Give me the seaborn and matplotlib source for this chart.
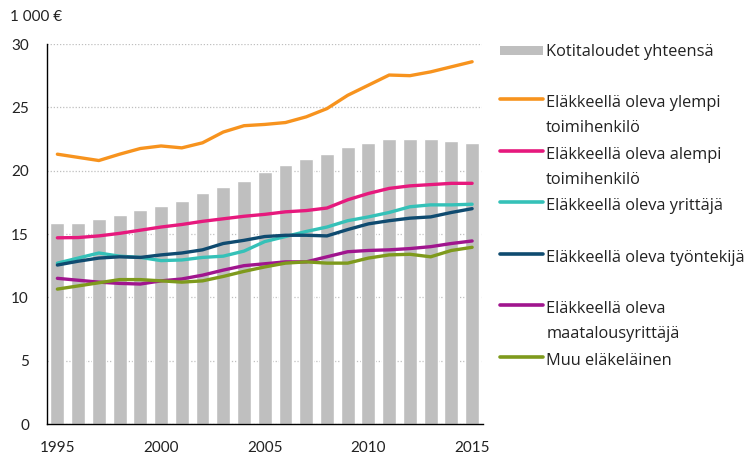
import matplotlib
matplotlib.use('Agg')
import matplotlib.pyplot as plt
from matplotlib.lines import Line2D
from matplotlib.patches import Patch
from matplotlib.legend_handler import HandlerLine2D, HandlerPatch
import pandas as pd
import seaborn as sns

sns.set_theme(style='white')
plt.rcParams['font.family'] = ['Lato', 'DejaVu Sans']

years = list(range(1995, 2016))
kotitaloudet = [15.9, 15.9, 16.15, 16.5, 16.9, 17.25, 17.6, 18.2, 18.7, 19.2, 19.9,
                20.45, 20.95, 21.35, 21.85, 22.2, 22.5, 22.5, 22.5, 22.35, 22.2]
ylempi = [21.3, 21.05, 20.8, 21.3, 21.75, 21.95, 21.8, 22.2, 23.05, 23.55, 23.65,
          23.8, 24.25, 24.9, 25.95, 26.75, 27.55, 27.5, 27.8, 28.2, 28.6]
alempi = [14.7, 14.72, 14.85, 15.05, 15.3, 15.55, 15.75, 16.0, 16.2, 16.4, 16.55,
          16.75, 16.85, 17.05, 17.7, 18.2, 18.6, 18.8, 18.9, 19.0, 19.0]
yrittaja = [12.7, 13.1, 13.5, 13.25, 13.15, 12.9, 12.95, 13.15, 13.25, 13.65, 14.4,
            14.8, 15.2, 15.55, 16.05, 16.35, 16.7, 17.15, 17.3, 17.3, 17.35]
tyontekija = [12.55, 12.85, 13.1, 13.2, 13.15, 13.35, 13.5, 13.75, 14.25, 14.5, 14.8,
              14.9, 14.9, 14.85, 15.35, 15.8, 16.05, 16.25, 16.35, 16.7, 17.0]
maatalous = [11.5, 11.35, 11.2, 11.1, 11.05, 11.3, 11.45, 11.75, 12.15, 12.5, 12.65,
             12.8, 12.8, 13.2, 13.6, 13.7, 13.75, 13.85, 14.0, 14.25, 14.45]
muu = [10.65, 10.9, 11.15, 11.4, 11.4, 11.3, 11.2, 11.3, 11.65, 12.05, 12.4,
       12.7, 12.8, 12.7, 12.7, 13.1, 13.35, 13.4, 13.2, 13.7, 13.95]

bar_label = 'Kotitaloudet yhteensä'
series = {
    'Eläkkeellä oleva ylempi\ntoimihenkilö': ylempi,
    'Eläkkeellä oleva alempi\ntoimihenkilö': alempi,
    'Eläkkeellä oleva yrittäjä\n': yrittaja,
    'Eläkkeellä oleva työntekijä\n': tyontekija,
    'Eläkkeellä oleva\nmaatalousyrittäjä': maatalous,
    'Muu eläkeläinen\n': muu,
}
colors = ['#F7931E', '#E6197D', '#35C1B8', '#0F4B70', '#A0158E', '#7E9A1C']
palette = dict(zip(series.keys(), colors))

bars = pd.DataFrame({'year': years, 'value': kotitaloudet})
lines = pd.concat([pd.DataFrame({'year': years, 'value': v, 'series': k})
                   for k, v in series.items()])

LIFT = 12  # points: put legend keys beside the first text line


class FirstLineLine(HandlerLine2D):
    def create_artists(self, *args, **kwargs):
        arts = super().create_artists(*args, **kwargs)
        for a in arts:
            a.set_ydata([y + LIFT for y in a.get_ydata()])
        return arts


class FirstLinePatch(HandlerPatch):
    def create_artists(self, *args, **kwargs):
        arts = super().create_artists(*args, **kwargs)
        for a in arts:
            a.set_y(a.get_y() + LIFT - 1.0)
            a.set_height(a.get_height() * 0.8)
        return arts


fig = plt.figure(figsize=(7.55, 4.55), dpi=100)
ax = fig.add_axes([47 / 755, 31 / 455, 435.5 / 755, 380 / 455])

sns.barplot(data=bars, x='year', y='value', native_scale=True, color='#BFBFBF',
            saturation=1, width=0.67, errorbar=None, ax=ax, zorder=2)
sns.lineplot(data=lines, x='year', y='value', hue='series', hue_order=list(series.keys()),
             palette=palette, linewidth=2.4, legend=False, ax=ax, zorder=3,
             solid_capstyle='round', solid_joinstyle='round')

ax.set_xlim(1994.5, 2015.5)
ax.set_ylim(0, 30)
ax.set_yticks(range(0, 31, 5))
ax.set_xticks(range(1995, 2016, 5))
ax.set_xlabel('')
ax.set_ylabel('')
ax.set_axisbelow(True)
ax.yaxis.grid(True, color='#BFBFBF', linestyle=(0, (1, 1.5)), linewidth=0.9)
sns.despine(ax=ax)
for s in ['left', 'bottom']:
    ax.spines[s].set_color('black')
    ax.spines[s].set_linewidth(1.0)
ax.tick_params(axis='y', length=0, pad=13, labelsize=11, labelcolor='#222222')
ax.tick_params(axis='x', length=0, pad=12, labelsize=11, labelcolor='#222222')

fig.text(10 / 755, 1 - 17 / 455, '1 000 €', fontsize=11, color='#222222', va='center', ha='left')

handles = [Patch(facecolor='#BFBFBF', edgecolor='none')]
handles += [Line2D([], [], color=c, linewidth=2.6) for c in colors]
labels = [bar_label + '\n'] + list(series.keys())
hmap = {Line2D: FirstLineLine(), Patch: FirstLinePatch()}
leg = fig.legend(handles, labels, loc='upper left', bbox_to_anchor=(500 / 755, 1 - 44 / 455),
                 frameon=False, borderpad=0, borderaxespad=0,
                 prop={'family': ['Open Sans', 'DejaVu Sans'], 'size': 11.8},
                 handlelength=2.6, handletextpad=0.22, labelspacing=0.66, handler_map=hmap)
for t in leg.get_texts():
    t.set_linespacing(1.72)
    t.set_color('#222222')

fig.savefig('out.png', dpi=100)
